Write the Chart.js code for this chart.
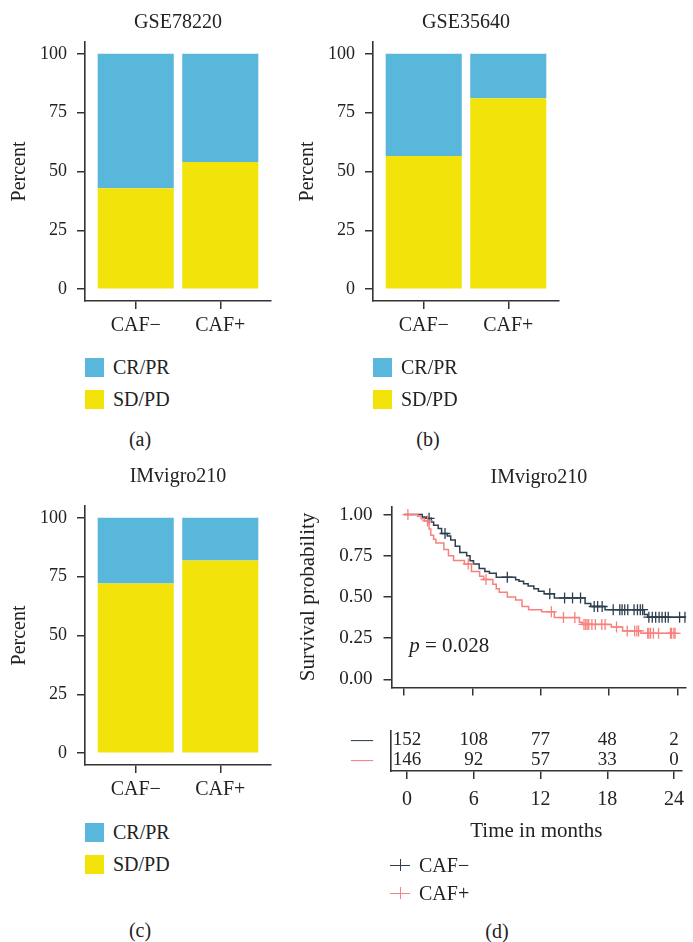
<!DOCTYPE html>
<html>
<head>
<title>CAF groups: response and survival</title>
<script src="https://cdn.jsdelivr.net/npm/chart.js"></script>
<style>
    body {
        margin: 0;
        width: 693px;
        height: 942px;
        position: relative;
        overflow: hidden;
        background: #fff;
        font-family: 'Liberation Serif', 'DejaVu Serif', serif;
        color: #222;
    }
    canvas { position: absolute; }
    .tag {
        position: absolute;
        font-size: 20px;
        transform: translate(-50%, -50%);
        white-space: nowrap;
    }
    .leg {
        position: absolute;
        height: 24px;
        font-size: 20px;
        display: flex;
        align-items: center;
        white-space: nowrap;
    }
    .sw { width: 19px; height: 19px; margin-right: 9px; }
    .km-sym { position: relative; width: 20px; height: 20px; margin-right: 9px; }
    .km-sym .h { position: absolute; left: 0; right: 0; top: 9.5px; height: 1.5px; }
    .km-sym .v { position: absolute; left: 9.5px; width: 1.5px; top: 4px; height: 12px; }
</style>
</head>
<body>
<canvas id="barA" width="290" height="345" style="left:0px;top:0px"></canvas>
<canvas id="barB" width="290" height="345" style="left:288px;top:0px"></canvas>
<canvas id="barC" width="290" height="345" style="left:0px;top:464px"></canvas>
<canvas id="km" width="403" height="250" style="left:290px;top:460px"></canvas>
<canvas id="risk" width="403" height="150" style="left:290px;top:700px"></canvas>
<div id="labels"></div>

<script>
    // response groups (percent of patients)
    const groups = ['CAF−', 'CAF+'];
    const respLabels = ['CR/PR', 'SD/PD'];
    const sdpdA = [42.9, 54.0];
    const crprA = [57.1, 46.0];
    const sdpdB = [56.6, 81.1];
    const crprB = [43.4, 18.9];
    const sdpdC = [72.1, 81.9];
    const crprC = [27.9, 18.1];
    const pctTicks = [0, 25, 50, 75, 100];

    // Kaplan-Meier steps, IMvigor210
    const kmTimeNeg = [0, 1.6, 2.0, 2.4, 2.6, 3.0, 3.3, 3.8, 4.1, 4.5, 4.9, 5.5, 5.8, 6.1, 6.6, 7.1, 7.5, 8.1, 9.8, 10.1, 10.5, 10.9, 11.4, 11.8, 12.3, 13.2, 15.9, 16.4, 17.65, 21.1, 21.4, 24.7];
    const kmSurvNeg = [1.0, 0.985, 0.977, 0.955, 0.935, 0.915, 0.885, 0.87, 0.846, 0.808, 0.77, 0.75, 0.72, 0.70, 0.673, 0.655, 0.644, 0.62, 0.605, 0.596, 0.58, 0.567, 0.55, 0.535, 0.519, 0.494, 0.461, 0.442, 0.423, 0.394, 0.377, 0.377];
    const kmTimePos = [0, 1.2, 1.5, 1.8, 2.2, 2.35, 2.6, 2.8, 3.5, 3.9, 4.35, 5.3, 5.92, 6.64, 7.0, 7.8, 8.1, 8.36, 9.07, 9.8, 10.36, 10.94, 12.08, 13.2, 15.4, 15.65, 18.2, 19.2, 20.8, 23.9];
    const kmSurvPos = [1.0, 0.99, 0.975, 0.961, 0.913, 0.875, 0.85, 0.827, 0.788, 0.75, 0.721, 0.70, 0.654, 0.625, 0.606, 0.577, 0.55, 0.529, 0.50, 0.481, 0.442, 0.423, 0.41, 0.375, 0.346, 0.333, 0.317, 0.294, 0.279, 0.279];

    // censored patients
    const censorTimeNeg = [2.2, 3.6, 9.07, 12.8, 14.1, 14.8, 15.5, 16.7, 17.0, 17.4, 18.37, 18.95, 19.15, 19.38, 19.65, 20.2, 20.5, 20.75, 20.95, 21.5, 21.8, 22.1, 22.4, 22.66, 22.95, 23.2, 24.2, 24.67];
    const censorSurvNeg = [0.977, 0.885, 0.62, 0.519, 0.494, 0.494, 0.494, 0.442, 0.442, 0.442, 0.423, 0.423, 0.423, 0.423, 0.423, 0.423, 0.423, 0.423, 0.423, 0.377, 0.377, 0.377, 0.377, 0.377, 0.377, 0.377, 0.377, 0.377];
    const censorTimePos = [0.34, 2.06, 5.64, 7.2, 12.94, 14.0, 15.0, 15.8, 15.94, 16.08, 16.22, 16.5, 16.8, 17.37, 17.66, 18.66, 19.6, 20.25, 20.45, 20.6, 21.4, 21.5, 21.65, 21.9, 22.35, 23.4, 23.5, 23.7, 23.8];
    const censorSurvPos = [1.0, 0.961, 0.70, 0.606, 0.41, 0.375, 0.375, 0.333, 0.333, 0.333, 0.333, 0.333, 0.333, 0.333, 0.333, 0.317, 0.294, 0.294, 0.294, 0.294, 0.279, 0.279, 0.279, 0.279, 0.279, 0.279, 0.279, 0.279, 0.279];

    const survTicks = [0, 0.25, 0.5, 0.75, 1];
    const timeTicks = [0, 6, 12, 18, 24];
    const atRiskNeg = [152, 108, 77, 48, 2];
    const atRiskPos = [146, 92, 57, 33, 0];
    const pValue = '0.028';

    const BLUE = '#5ab7dc', YELLOW = '#f2e30b';
    const DARK = '#2e3e4f', PINK = '#f8817d';
    const AX = '#333', TXT = '#222';
    const FONT = "'Liberation Serif', 'DejaVu Serif', serif";

    Chart.defaults.font.family = FONT;
    Chart.defaults.color = TXT;

    const pts = (xs, ys) => xs.map((x, i) => ({x: x, y: ys[i]}));

    function axisBase() {
        return {
            grid: {drawOnChartArea: false, offset: false, tickLength: 8, color: AX, lineWidth: 1.5},
            border: {color: AX, width: 1.6}
        };
    }

    function barChart(id, title, sdpd, crpr, titlePad) {
        new Chart(document.getElementById(id), {
            type: 'bar',
            data: {
                datasets: [
                    {label: 'SD/PD', data: sdpd.map((v, i) => ({x: i + 1, y: v})), backgroundColor: YELLOW},
                    {label: 'CR/PR', data: crpr.map((v, i) => ({x: i + 1, y: v})), backgroundColor: BLUE}
                ]
            },
            options: {
                responsive: false,
                animation: false,
                barPercentage: 0.9,
                categoryPercentage: 1,
                layout: {padding: {right: 19}},
                plugins: {
                    legend: {display: false},
                    tooltip: {enabled: false},
                    title: {
                        display: true, text: title, fullSize: false, color: TXT,
                        font: {size: 20, weight: 'normal'}, padding: titlePad
                    }
                },
                scales: {
                    x: Object.assign(axisBase(), {
                        type: 'linear', stacked: true, min: 0.4, max: 2.6, offset: false,
                        afterBuildTicks: a => { a.ticks = groups.map((g, i) => ({value: i + 1})); },
                        ticks: {callback: v => groups[v - 1], font: {size: 20}, padding: 5, color: TXT, maxRotation: 0, autoSkip: false},
                        afterFit: a => { a.height = 44; }
                    }),
                    y: Object.assign(axisBase(), {
                        stacked: true, min: -5, max: 105,
                        afterBuildTicks: a => { a.ticks = pctTicks.map(v => ({value: v})); },
                        ticks: {font: {size: 18}, padding: 10, color: TXT},
                        title: {display: true, text: 'Percent', font: {size: 20}, color: TXT, padding: {top: 8, bottom: 0}},
                        afterFit: a => { a.width = 85; }
                    })
                }
            }
        });
    }

    barChart('barA', 'GSE78220', sdpdA, crprA, {top: 11, bottom: 7});
    barChart('barB', 'GSE35640', sdpdB, crprB, {top: 11, bottom: 7});
    barChart('barC', 'IMvigro210', sdpdC, crprC, {top: 1, bottom: 17});

    // p-value text inside the survival panel
    const pLabel = {
        id: 'pLabel',
        afterDatasetsDraw(chart) {
            const {ctx, scales: {x, y}} = chart;
            const px = x.getPixelForValue(0.45), py = y.getPixelForValue(0.2);
            ctx.save();
            ctx.fillStyle = TXT;
            ctx.textBaseline = 'middle';
            ctx.font = 'italic 21px ' + FONT;
            ctx.fillText('p', px, py);
            const w = ctx.measureText('p').width;
            ctx.font = '21px ' + FONT;
            ctx.fillText(' = ' + pValue, px + w, py);
            ctx.restore();
        }
    };

    new Chart(document.getElementById('km'), {
        type: 'line',
        data: {
            datasets: [
                {type: 'scatter', data: pts(censorTimePos, censorSurvPos), pointStyle: 'cross', pointRadius: 5.5,
                 borderColor: PINK, borderWidth: 1.3, backgroundColor: PINK, showLine: false},
                {label: 'CAF+', data: pts(kmTimePos, kmSurvPos), borderColor: PINK, borderWidth: 1.5,
                 stepped: true, pointRadius: 0, fill: false},
                {type: 'scatter', data: pts(censorTimeNeg, censorSurvNeg), pointStyle: 'cross', pointRadius: 5.5,
                 borderColor: DARK, borderWidth: 1.3, backgroundColor: DARK, showLine: false},
                {label: 'CAF−', data: pts(kmTimeNeg, kmSurvNeg), borderColor: DARK, borderWidth: 1.5,
                 stepped: true, pointRadius: 0, fill: false}
            ]
        },
        options: {
            responsive: false,
            animation: false,
            plugins: {
                legend: {display: false},
                tooltip: {enabled: false},
                title: {display: true, text: 'IMvigro210', fullSize: false, color: TXT,
                        font: {size: 20, weight: 'normal'}, padding: {top: 6, bottom: 16.3}}
            },
            scales: {
                x: Object.assign(axisBase(), {
                    type: 'linear', min: -1.1, max: 24.78,
                    afterBuildTicks: a => { a.ticks = timeTicks.map(v => ({value: v})); },
                    ticks: {display: false},
                    afterFit: a => { a.height = 13; }
                }),
                y: Object.assign(axisBase(), {
                    min: -0.05, max: 1.05,
                    afterBuildTicks: a => { a.ticks = survTicks.map(v => ({value: v})); },
                    ticks: {callback: v => v.toFixed(2), font: {size: 19}, padding: 11, color: TXT},
                    title: {display: true, text: 'Survival probability', font: {size: 21}, color: TXT, padding: {top: 6, bottom: 0}},
                    afterFit: a => { a.width = 101.5; }
                })
            }
        },
        plugins: [pLabel]
    });

    // numbers at risk
    const riskNumbers = {
        id: 'riskNumbers',
        afterDraw(chart) {
            const {ctx, scales: {x, y}} = chart;
            ctx.save();
            ctx.fillStyle = TXT;
            ctx.font = '19px ' + FONT;
            ctx.textAlign = 'center';
            ctx.textBaseline = 'middle';
            timeTicks.forEach((t, i) => {
                ctx.fillText(String(atRiskNeg[i]), x.getPixelForValue(t), y.getPixelForValue(2));
                ctx.fillText(String(atRiskPos[i]), x.getPixelForValue(t), y.getPixelForValue(1));
            });
            ctx.restore();
        }
    };

    new Chart(document.getElementById('risk'), {
        type: 'scatter',
        data: {datasets: []},
        options: {
            responsive: false,
            animation: false,
            layout: {padding: {top: 24}},
            plugins: {legend: {display: false}, tooltip: {enabled: false}},
            scales: {
                x: Object.assign(axisBase(), {
                    type: 'linear', min: -1.45, max: 24.7,
                    afterBuildTicks: a => { a.ticks = timeTicks.map(v => ({value: v})); },
                    ticks: {font: {size: 20}, padding: 9, color: TXT, maxRotation: 0},
                    title: {display: true, text: 'Time in months', font: {size: 21}, color: TXT, padding: {top: 0, bottom: 6}},
                    afterFit: a => { a.height = 79; }
                }),
                y: {
                    type: 'linear', min: 0.46, max: 2.42,
                    grid: {drawOnChartArea: false, drawTicks: false},
                    border: {color: AX, width: 1.6},
                    afterBuildTicks: a => { a.ticks = [{value: 2}, {value: 1}]; },
                    ticks: {callback: () => '—', font: {size: 22}, padding: 18,
                            color: c => (c.tick && c.tick.value === 2) ? DARK : PINK},
                    afterFit: a => { a.width = 101; }
                }
            }
        },
        plugins: [riskNumbers]
    });

    // legends and panel tags
    const box = document.getElementById('labels');
    const respColors = [BLUE, YELLOW];
    [[85, 367.5], [373, 367.5], [85, 832]].forEach(([lx, ly]) => {
        respLabels.forEach((name, i) => {
            const d = document.createElement('div');
            d.className = 'leg';
            d.style.left = lx + 'px';
            d.style.top = (ly + i * 32 - 12) + 'px';
            d.innerHTML = '<div class="sw" style="background:' + respColors[i] + '"></div>' + name;
            box.appendChild(d);
        });
    });

    [['CAF−', DARK, 865], ['CAF+', PINK, 893]].forEach(([name, col, ly]) => {
        const d = document.createElement('div');
        d.className = 'leg';
        d.style.left = '390px';
        d.style.top = (ly - 12) + 'px';
        d.innerHTML = '<div class="km-sym"><div class="h" style="background:' + col + '"></div>' +
            '<div class="v" style="background:' + col + '"></div></div>' + name;
        box.appendChild(d);
    });

    [['(a)', 140, 439], ['(b)', 428, 439], ['(c)', 140, 930], ['(d)', 497, 931]].forEach(([t, lx, ly]) => {
        const d = document.createElement('div');
        d.className = 'tag';
        d.style.left = lx + 'px';
        d.style.top = ly + 'px';
        d.textContent = t;
        box.appendChild(d);
    });
</script>
</body>
</html>
